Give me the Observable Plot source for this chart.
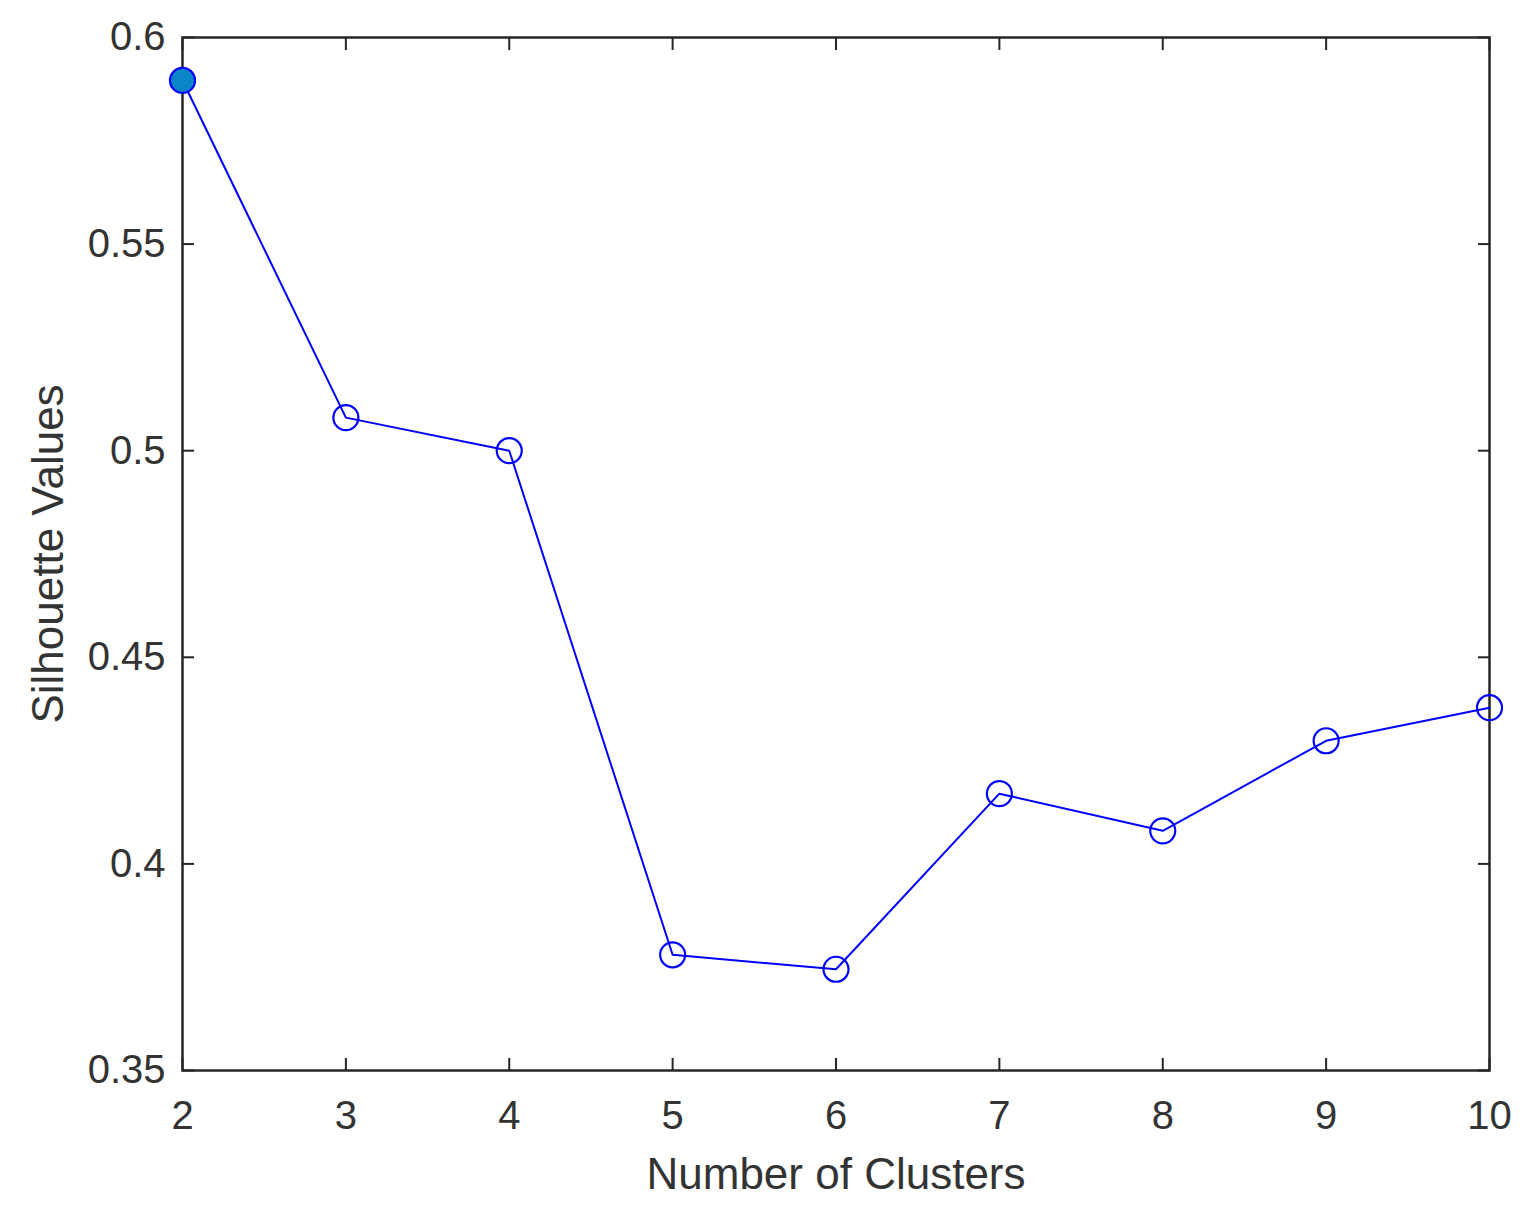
<!DOCTYPE html>
<html>
<head>
<meta charset="utf-8">
<script src="https://cdn.jsdelivr.net/npm/d3@7"></script>
<script src="https://cdn.jsdelivr.net/npm/@observablehq/plot@0.6"></script>
<style>
  html, body { margin: 0; padding: 0; background: #fff; }
  #chart { width: 1528px; height: 1218px; }
</style>
</head>
<body>
<div id="chart"></div>
<script>
const clusters = [2, 3, 4, 5, 6, 7, 8, 9, 10];
const silhouette = [0.5896, 0.5080, 0.5000, 0.3780, 0.3745, 0.4170, 0.4080, 0.4298, 0.4378];
const xTicks = [2, 3, 4, 5, 6, 7, 8, 9, 10];
const xTickLabels = ["2", "3", "4", "5", "6", "7", "8", "9", "10"];
const yTicks = [0.35, 0.4, 0.45, 0.5, 0.55, 0.6];
const yTickLabels = ["0.35", "0.4", "0.45", "0.5", "0.55", "0.6"];
const highlighted = [2];

const data = clusters.map((k, i) => ({k, v: silhouette[i]}));
const ink = "#262626";
const blue = "#0000ff";

const chart = Plot.plot({
  width: 1528,
  height: 1218,
  marginLeft: 182,
  marginRight: 39,
  marginTop: 37,
  marginBottom: 148,
  style: {fontFamily: "'Liberation Sans', Arial, sans-serif", background: "#fff", color: ink},
  x: {domain: [2, 10]},
  y: {domain: [0.35, 0.6]},
  marks: [
    Plot.axisX(xTicks, {anchor: "bottom", tickSize: -12, tickPadding: 42, stroke: ink, strokeWidth: 2, fill: "#333", fontSize: 40,
      tickFormat: d => xTickLabels[xTicks.indexOf(d)], label: null}),
    Plot.axisX(xTicks, {anchor: "top", tickSize: -12, stroke: ink, strokeWidth: 2, tickFormat: () => "", label: null}),
    Plot.axisY(yTicks, {anchor: "left", tickSize: -12, tickPadding: 29, stroke: ink, strokeWidth: 2, fill: "#333", fontSize: 40,
      tickFormat: d => yTickLabels[yTicks.findIndex(t => Math.abs(t - d) < 1e-9)], label: null}),
    Plot.axisY(yTicks, {anchor: "right", tickSize: -12, stroke: ink, strokeWidth: 2, tickFormat: () => "", label: null}),
    Plot.frame({stroke: ink, strokeWidth: 2.5}),
    Plot.line(data, {x: "k", y: "v", stroke: blue, strokeWidth: 2}),
    Plot.dot(data, {x: "k", y: "v", r: 12.5, stroke: blue, strokeWidth: 2.2, fill: d => highlighted.includes(d.k) ? "#0a86c8" : "none"}),
    Plot.text(["Number of Clusters"], {frameAnchor: "bottom", dy: 104, fontSize: 44, fill: "#333", textAnchor: "middle", lineAnchor: "middle"}),
    Plot.text(["Silhouette Values"], {frameAnchor: "left", dx: -134, rotate: -90, fontSize: 44, fill: "#333", textAnchor: "middle", lineAnchor: "middle"})
  ]
});
document.getElementById("chart").append(chart);
</script>
</body>
</html>
